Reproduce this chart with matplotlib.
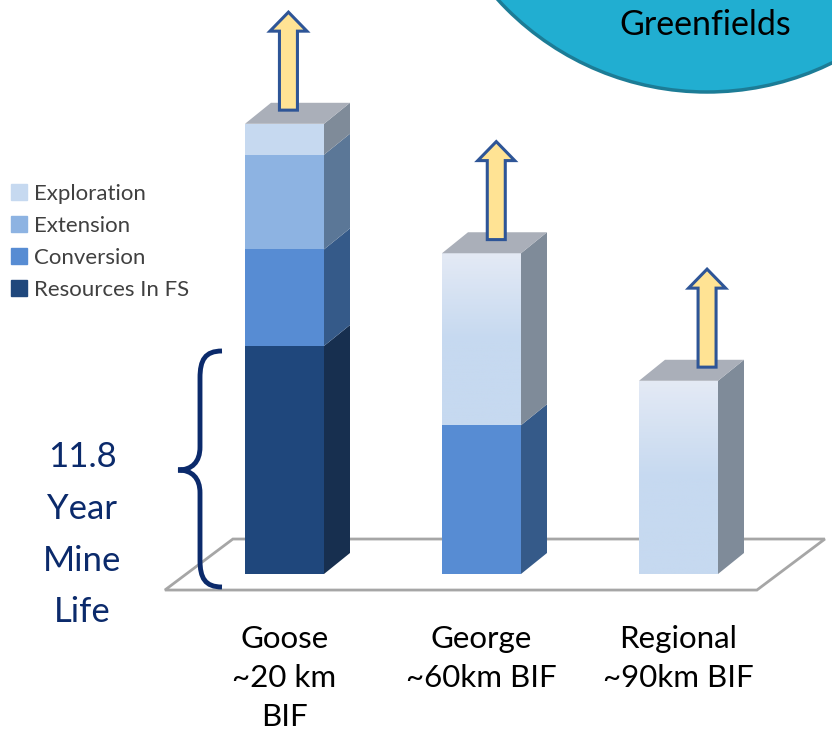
import matplotlib
matplotlib.use("Agg")
import matplotlib.pyplot as plt
import numpy as np
from matplotlib.colors import LinearSegmentedColormap
from matplotlib.patches import Circle, Patch, PathPatch, Polygon
from matplotlib.path import Path

plt.rcParams["font.family"] = ["Lato", "DejaVu Sans"]

# stacked segments, bottom to top (years of mine life equivalent)
categories = ["Goose\n~20 km\nBIF", "George\n~60km BIF", "Regional\n~90km BIF"]
resources_fs = [11.8, 0.0, 0.0]
conversion = [5.0, 7.7, 0.0]
extension = [4.9, 0.0, 0.0]
exploration = [1.6, 8.9, 10.0]
mine_life = 11.8

series = [
    ("Resources In FS", resources_fs, "#1F477C", "#172F4F"),
    ("Conversion", conversion, "#578CD3", "#355A89"),
    ("Extension", extension, "#8DB3E2", "#5B7797"),
    ("Exploration", exploration, "#C6D9F0", "#7F8B99"),
]

# layout: 197 px per category, 19.32 px per unit, floor front edge at y=574 px
W, H = 832, 735
PX_CAT = 197.0
PX_UNIT = 228.0 / mine_life
X0, Y0 = 284.5, 574.0
bar_w = 79 / PX_CAT
dx, dy = 26 / PX_CAT, 21 / PX_UNIT
arrow_len = 98 / PX_UNIT
arrow_shift = [0.02, 0.075, 0.145]

fig = plt.figure(figsize=(W / 100, H / 100), dpi=100)
ax = fig.add_axes([0, 0, 1, 1])
ax.set_xlim(-X0 / PX_CAT, (W - X0) / PX_CAT)
ax.set_ylim(-(H - Y0) / PX_UNIT, Y0 / PX_UNIT)
ax.axis("off")

# floor plane
fx0, fx1 = -0.607, 2.398
fsx, fsy = 0.345, 2.64
fy = -0.83
floor = Polygon([(fx0, fy), (fx1, fy), (fx1 + fsx, fy + fsy), (fx0 + fsx, fy + fsy)],
                closed=True, facecolor="white", edgecolor="#A6A6A6", lw=2, zorder=1)
ax.add_patch(floor)

x = np.arange(len(categories))
bottom = np.zeros(len(categories))
fade = LinearSegmentedColormap.from_list("fade", ["#C6D9F0", "#C6D9F0", "#E4EAF5"])

for name, vals, face, side in series:
    vals = np.array(vals)
    bars = ax.bar(x, vals, bar_w, bottom=bottom, color=face, zorder=3, lw=0)
    for i, b in enumerate(bars):
        if vals[i] <= 0:
            continue
        b0, b1 = bottom[i], bottom[i] + vals[i]
        xr = x[i] + bar_w / 2
        ax.add_patch(Polygon([(xr, b0), (xr + dx, b0 + dy), (xr + dx, b1 + dy), (xr, b1)],
                             closed=True, facecolor=side, lw=0, zorder=3))
        if name == "Exploration" and vals[i] > 5:
            grad = np.linspace(0, 1, 200).reshape(-1, 1)
            im = ax.imshow(grad, cmap=fade, origin="lower", aspect="auto",
                           extent=(x[i] - bar_w / 2, xr, b0, b1), zorder=3.5)
            im.set_clip_path(b)
    bottom = bottom + vals

# top faces and upside arrows
for i in x:
    t = bottom[i]
    xl, xr = i - bar_w / 2, i + bar_w / 2
    ax.add_patch(Polygon([(xl, t), (xl + dx, t + dy), (xr + dx, t + dy), (xr, t)],
                         closed=True, facecolor="#AAAFB9", lw=0, zorder=4))
    ax_c = i + arrow_shift[i]
    base = t + 0.65 * dy
    tip = base + arrow_len
    neck = tip - 19 / PX_UNIT
    sw, hw = 9 / PX_CAT, 18.5 / PX_CAT
    ax.add_patch(Polygon([(ax_c - sw, base), (ax_c - sw, neck), (ax_c - hw, neck),
                          (ax_c, tip), (ax_c + hw, neck), (ax_c + sw, neck), (ax_c + sw, base)],
                         closed=True, facecolor="#FFE394", edgecolor="#2E5597",
                         lw=2.2, joinstyle="miter", zorder=5))
    ax.text(i, -2.65, categories[i], ha="center", va="top", fontsize=22.5,
            color="black", linespacing=1.47)

handles = [Patch(color=c) for _, _, c, _ in series][::-1]
labels = [n for n, _, _, _ in series][::-1]
ax.legend(handles, labels, loc="upper left", bbox_to_anchor=(0.003, 0.762), frameon=False,
          fontsize=16, handlelength=0.7, handleheight=0.7, handletextpad=0.3,
          labelspacing=0.54, labelcolor="#404040", borderaxespad=0)

# overlay in pixel units for callouts
deco = fig.add_axes([0, 0, 1, 1], zorder=5)
deco.set_xlim(0, W)
deco.set_ylim(H, 0)
deco.axis("off")
deco.patch.set_alpha(0)

deco.add_patch(Circle((707, -191), 283, facecolor="#21AED1", edgecolor="#1C7C96", lw=2.5))
deco.text(705, 25, "Greenfields", ha="center", va="center", fontsize=24.5, color="black")

brace = Path(
    [(222, 351), (205, 351), (200, 360), (200, 378),
     (200, 447),
     (200, 462), (192, 470), (178, 470),
     (192, 470), (200, 478), (200, 493),
     (200, 560),
     (200, 578), (205, 587), (222, 587)],
    [Path.MOVETO, Path.CURVE4, Path.CURVE4, Path.CURVE4,
     Path.LINETO,
     Path.CURVE4, Path.CURVE4, Path.CURVE4,
     Path.CURVE4, Path.CURVE4, Path.CURVE4,
     Path.LINETO,
     Path.CURVE4, Path.CURVE4, Path.CURVE4],
)
deco.add_patch(PathPatch(brace, facecolor="none", edgecolor="#0B2A6B", lw=3.5, capstyle="butt"))
deco.text(82, 441, f"{mine_life}\nYear\nMine\nLife", ha="center", va="top", fontsize=25,
          color="#0B2A6B", linespacing=1.76)

fig.savefig("out.png", dpi=100)
